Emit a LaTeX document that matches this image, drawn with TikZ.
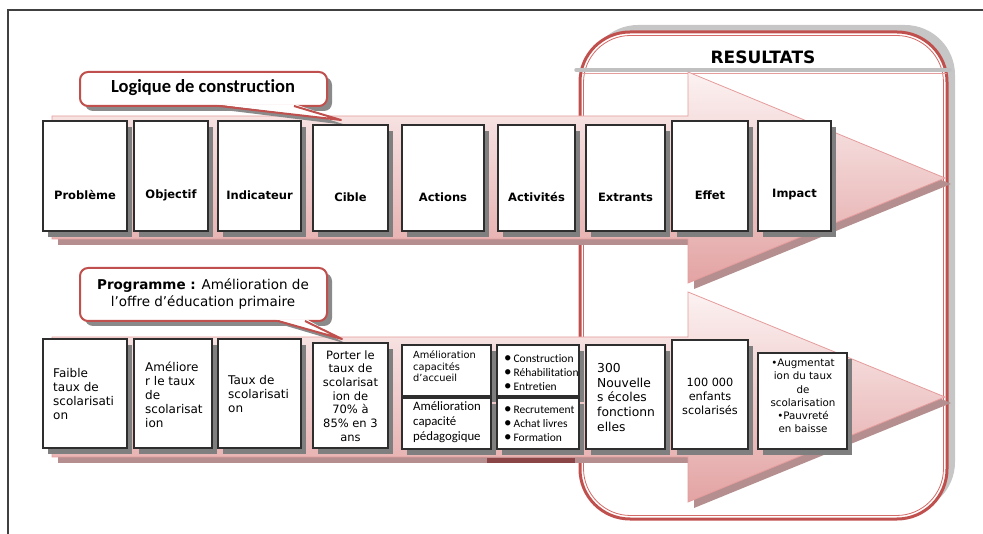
\documentclass[tikz,border=0pt]{standalone}
\usepackage{fontspec}
\setmainfont{DejaVu Sans}
\newfontfamily\calib[Ligatures=NoCommon]{Carlito}
\usetikzlibrary{shadows}
\definecolor{redb}{HTML}{C0504D}
\definecolor{redin}{HTML}{D46A67}
\definecolor{framec}{HTML}{404040}
\definecolor{resh}{HTML}{C6C6C6}
\definecolor{sepgray}{HTML}{C0C0C0}
\definecolor{boxln}{HTML}{2E2E2E}
\definecolor{boxsh}{HTML}{7F7F7F}
\definecolor{arrtop}{HTML}{FCF2F2}
\definecolor{arrbot}{HTML}{E3A3A3}
\definecolor{arredge}{HTML}{E59C9C}
\definecolor{arrsh}{HTML}{B58F8F}
\definecolor{darkseg}{HTML}{8A4646}
\definecolor{cosh}{HTML}{8A8A8A}
\newcommand{\fsz}[2]{\fontsize{#1}{#2}\selectfont}
\newcommand{\bul}{{\fontsize{15}{14}\selectfont•}\,}
\begin{document}
\begin{tikzpicture}[x=1pt,y=-1pt,
  bx/.style={draw=boxln, line width=1.1pt, fill=white, inner sep=0pt,
    drop shadow={shadow xshift=5pt, shadow yshift=-6pt, fill=boxsh, opacity=1}},
  lbl/.style={font=\fsz{11.5}{13}\bfseries, inner sep=0pt},
  ltxt/.style={anchor=west, align=left, inner sep=0pt},
  ctxt/.style={align=center, inner sep=0pt}]
\useasboundingbox (0,0) rectangle (983,534);
% frame
\draw[framec, line width=1.2pt] (8,534) -- (8,10) -- (983,10);
% RESULTATS container
\fill[resh, rounded corners=50pt] (588,25) rectangle (955,512);
\fill[white, rounded corners=50pt] (580,32) rectangle (947,519);
\draw[redb, line width=3pt, rounded corners=50pt] (580,32) rectangle (947,519);
\draw[redin, line width=0.8pt, rounded corners=47pt] (583.5,35.5) rectangle (943.5,515.5);
\draw[sepgray, line width=3.5pt, line cap=round] (576,70) -- (950,70);
\draw[arredge, line width=1.5pt, line cap=round] (583,73.5) -- (946,73.5);
\node[font=\fsz{17}{19}\bfseries, inner sep=0pt] (res) at (763,57) {RESULTATS};
% arrow shadows
\begin{scope}[shift={(6,6)}]
\fill[arrsh] (52,116) -- (688,116) -- (688,72) -- (945,178) -- (688,283) -- (688,239) -- (52,239) -- cycle;
\fill[arrsh] (52,337) -- (688,337) -- (688,292) -- (945,397) -- (688,502) -- (688,457) -- (52,457) -- cycle;
\end{scope}
% arrows
\path[draw=arredge, line width=0.8pt, top color=arrtop, bottom color=arrbot]
  (52,116) -- (688,116) -- (688,72) -- (945,178) -- (688,283) -- (688,239) -- (52,239) -- cycle;
\path[draw=arredge, line width=0.8pt, top color=arrtop, bottom color=arrbot]
  (52,337) -- (688,337) -- (688,292) -- (945,397) -- (688,502) -- (688,457) -- (52,457) -- cycle;
\fill[darkseg] (487,458.5) rectangle (575,463);
% callout 1
\fill[cosh, rounded corners=8pt] (85,77) rectangle (332,111);
\fill[cosh] (224,110) -- (299,110) -- (346,125) -- cycle;
\draw[redb, line width=2pt, fill=white, rounded corners=8pt] (80,72) rectangle (327,106);
\fill[white] (217,104.5) -- (296,104.5) -- (341,120) -- cycle;
\draw[redb, line width=2pt, line join=round] (219,106) -- (341,120) -- (294,106);
\node[font=\calib\fsz{18.5}{21}\bfseries, inner sep=0pt] (c1) at (203,88) {Logique de construction};
% callout 2
\fill[cosh, rounded corners=8pt] (85,273) rectangle (332,326);
\fill[cosh] (283,325) -- (310,325) -- (347,344) -- cycle;
\draw[redb, line width=2pt, fill=white, rounded corners=8pt] (80,268) rectangle (327,321);
\fill[white] (276,319.5) -- (307,319.5) -- (342,339) -- cycle;
\draw[redb, line width=2pt, line join=round] (278,321) -- (342,339) -- (305,321);
\node[font=\fsz{13.5}{17}, ctxt] (c2) at (203,294.5) {\textbf{Programme :} Amélioration de\\l’offre d’éducation primaire};
% top row boxes
\node[bx, minimum width=84pt, minimum height=110pt] (p1) at (85,176) {};
\node[bx, minimum width=74pt, minimum height=110pt] (p2) at (171,176) {};
\node[bx, minimum width=83pt, minimum height=110pt] (p3) at (259.5,176) {};
\node[bx, minimum width=75pt, minimum height=106pt] (p4) at (350.5,178) {};
\node[bx, minimum width=82pt, minimum height=106pt] (p5) at (443,178) {};
\node[bx, minimum width=77pt, minimum height=106pt] (p6) at (536.5,178) {};
\node[bx, minimum width=79pt, minimum height=106pt] (p7) at (625.5,178) {};
\node[bx, minimum width=76pt, minimum height=110pt] (p8) at (710,176) {};
\node[bx, minimum width=73pt, minimum height=110pt] (p9) at (794.5,176) {};
\node[lbl] (l1) at (85,195) {Problème};
\node[lbl] (l2) at (171,195) {Objectif};
\node[lbl] (l3) at (259.5,195) {Indicateur};
\node[lbl] (l4) at (350.5,197) {Cible};
\node[lbl] (l5) at (443,197) {Actions};
\node[lbl] (l6) at (536.5,197) {Activités};
\node[lbl] (l7) at (625.5,197) {Extrants};
\node[lbl] (l8) at (710,195) {Effet};
\node[lbl] (l9) at (794.5,195) {Impact};
% bottom row boxes
\node[bx, minimum width=84pt, minimum height=109pt] (q1) at (85,393.5) {};
\node[bx, minimum width=78pt, minimum height=109pt] (q2) at (173,393.5) {};
\node[bx, minimum width=83pt, minimum height=109pt] (q3) at (259.5,393.5) {};
\node[bx, minimum width=75pt, minimum height=105pt] (q4) at (350.5,395.5) {};
\node[bx, minimum width=89pt, minimum height=51pt] (q5a) at (446.5,370.5) {};
\node[bx, minimum width=89pt, minimum height=51pt] (q5b) at (446.5,423.5) {};
\node[bx, minimum width=82pt, minimum height=51pt] (q6a) at (538,370.5) {};
\node[bx, minimum width=82pt, minimum height=51pt] (q6b) at (538,423.5) {};
\node[bx, minimum width=79pt, minimum height=104pt] (q7) at (625.5,397) {};
\node[bx, minimum width=76pt, minimum height=109pt] (q8) at (710,394.5) {};
\node[bx, minimum width=89pt, minimum height=96pt] (q9) at (802.5,401) {};
\node[ltxt, font=\fsz{12}{14}] (r1) at (53,394) {Faible\\taux de\\scolarisati\\on};
\node[ltxt, font=\fsz{12}{14}] (r2) at (145,395) {Améliore\\r le taux\\de\\scolarisat\\ion};
\node[ltxt, font=\fsz{12}{14}] (r3) at (228,394.5) {Taux de\\scolarisati\\on};
\node[ctxt, font=\fsz{11.5}{13.7}] (r4) at (350.5,396) {Porter le\\taux de\\scolarisat\\ion de\\70\% à\\85\% en 3\\ans};
\node[ltxt, font=\fsz{9.8}{11.5}] (r5a) at (413,366.5) {Amélioration\\capacités\\d’accueil};
\node[ltxt, font=\calib\fsz{12.8}{15}] (r5b) at (413,422.5) {Amélioration\\capacité\\pédagogique};
\node[ltxt, font=\calib\fsz{11.5}{14}] (r6a) at (504,373) {\bul Construction\\\bul Réhabilitation\\\bul Entretien};
\node[ltxt, font=\calib\fsz{11.5}{14}] (r6b) at (504,424) {\bul Recrutement\\\bul Achat livres\\\bul Formation};
\node[ltxt, font=\fsz{12.3}{14.7}] (r7) at (597,397.5) {300\\Nouvelle\\s écoles\\fonctionn\\elles};
\node[ctxt, font=\fsz{11.3}{14}] (r8) at (710,396) {100 000\\enfants\\scolarisés};
\node[ctxt, font=\fsz{10.3}{13.2}] (r9) at (803,396) {•Augmentat\\ion du taux\\de\\scolarisation\\•Pauvreté\\en baisse};
\end{tikzpicture}
\end{document}
